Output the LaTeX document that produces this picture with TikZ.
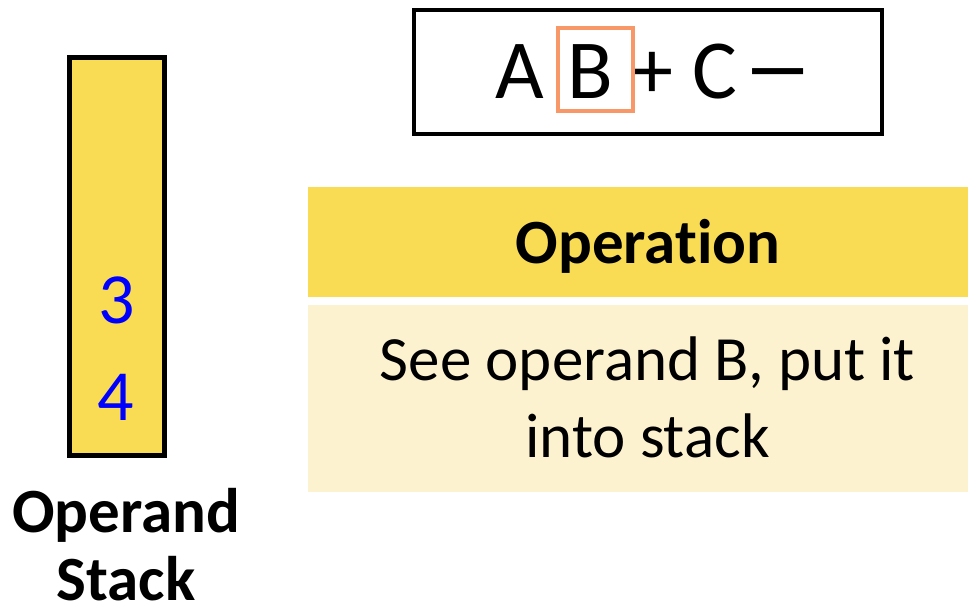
\documentclass[tikz,border=0pt]{standalone}
\usepackage{fontspec}
\setmainfont{Carlito}[Ligatures={NoCommon}]
\definecolor{stackyellow}{RGB}{249,220,83}
\definecolor{lightyellow}{RGB}{253,242,208}
\definecolor{hlorange}{RGB}{248,152,104}
\definecolor{numblue}{RGB}{0,0,255}
\tikzset{
  frame/.style={draw=black, line width=4.5pt},
  exprchar/.style={anchor=base, inner sep=0pt, font=\fontsize{84}{100}\selectfont},
  numtxt/.style={anchor=base, inner sep=0pt, text=numblue, font=\fontsize{72}{86}\selectfont},
  headtxt/.style={anchor=base, inner sep=0pt, font=\fontsize{63}{74}\selectfont\bfseries},
  bodytxt/.style={anchor=base, inner sep=0pt, font=\fontsize{63}{77}\selectfont},
}
\begin{document}
\begin{tikzpicture}[x=1pt,y=-1pt]
\useasboundingbox (0,0) rectangle (968,611);
% operand stack
\draw[frame, fill=stackyellow] (69.5,57.5) rectangle (164.5,455.5);
\node[numtxt] (n3) at (117,323) {3};
\node[numtxt] (n4) at (116,420) {4};
\node[headtxt] (st1) at (126,532) {Operand};
\node[headtxt] (st2) at (126,600) {Stack};
% expression box
\draw[frame] (414,10) rectangle (882,134);
\node[exprchar] (ea) at (520,98) {A};
\node[exprchar] (eb) at (590,98) {B};
\node[exprchar] (ep) at (652,98) {+};
\node[exprchar] (ec) at (715,98) {C};
\node[exprchar] (em) at (778,98) {\scalebox{1.7}[1.15]{–}};
\draw[draw=hlorange, line width=4.5pt] (558,28) rectangle (633,111);
% operation table
\fill[stackyellow] (308,187) rectangle (968,297);
\fill[lightyellow] (308,305) rectangle (968,492);
\node[headtxt] (op) at (648,263) {Operation};
\node[bodytxt] (d1) at (647.5,380) {See operand B, put it};
\node[bodytxt] (d2) at (647.5,457) {into stack};
\end{tikzpicture}
\end{document}
